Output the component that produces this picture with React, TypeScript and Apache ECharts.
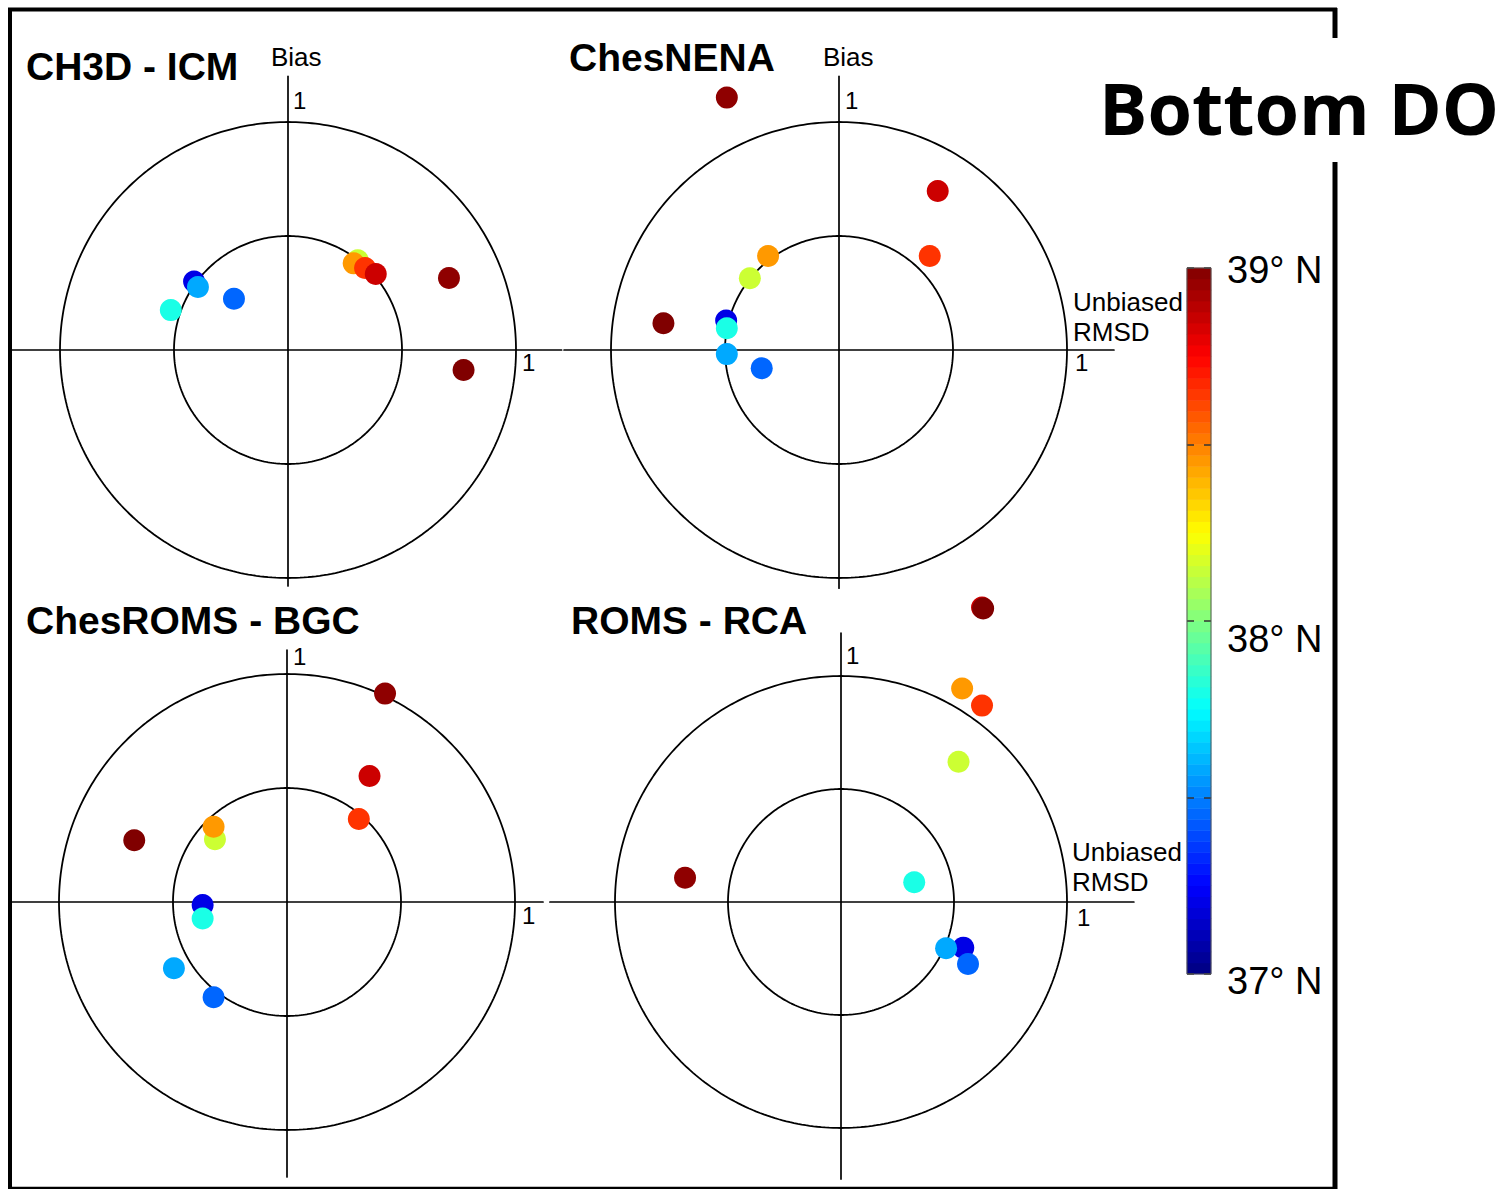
import React, { useEffect, useRef } from 'react';
import * as echarts from 'echarts';

// ---------- data ----------
const panelTitles = ['CH3D - ICM', 'ChesNENA', 'ChesROMS - BGC', 'ROMS - RCA'];

// station latitudes (°N), listed in drawing order
const stationLat = [37.2, 38.15, 38.45, 38.65, 38.85, 38.97, 39.0, 37.8, 37.58, 37.45];

// normalized unbiased RMSD (x) and bias (y) per panel, same station order
const ch3dX = [-0.412, 0.306, 0.288, 0.338, 0.385, 0.706, 0.77, -0.514, -0.395, -0.237];
const ch3dY = [0.3, 0.394, 0.38, 0.36, 0.333, 0.316, -0.088, 0.175, 0.276, 0.225];

const nenaX = [-0.495, -0.391, -0.311, 0.398, 0.433, -0.492, -0.77, -0.492, -0.492, -0.339];
const nenaY = [0.129, 0.315, 0.412, 0.412, 0.697, 1.107, 0.117, 0.095, -0.018, -0.08];

const bgcX = [-0.37, -0.316, -0.322, 0.315, 0.362, 0.43, -0.67, -0.37, -0.496, -0.322];
const bgcY = [-0.013, 0.275, 0.33, 0.364, 0.553, 0.914, 0.271, -0.072, -0.291, -0.418];

const rcaX = [0.541, 0.52, 0.536, 0.624, 0.624, -0.69, 0.629, 0.324, 0.465, 0.562];
const rcaY = [-0.202, 0.621, 0.945, 0.869, 1.303, 0.107, 1.299, 0.087, -0.205, -0.274];

const panelXs = [ch3dX, nenaX, bgcX, rcaX];
const panelYs = [ch3dY, nenaY, bgcY, rcaY];

const ringRadii = [0.5, 1];
const colorbarMin = 37;
const colorbarMax = 39;
const colorbarBins = 64;
const colorbarLabels = [37, 38, 39];
const jetStops = ['#000080', '#0000ff', '#0080ff', '#00ffff', '#80ff80', '#ffff00', '#ff8000', '#ff0000', '#800000'];

// ---------- layout ----------
const panels = [
  { cx: 288, cy: 350, r: 228, xMin: -1.21, xMax: 1.2, yMin: -1.035, yMax: 1.2 },
  { cx: 839, cy: 350, r: 228, xMin: -1.206, xMax: 1.206, yMin: -1.045, yMax: 1.2 },
  { cx: 287, cy: 902, r: 228, xMin: -1.205, xMax: 1.123, yMin: -1.206, yMax: 1.105 },
  { cx: 841, cy: 902, r: 226, xMin: -1.288, xMax: 1.296, yMin: -1.226, yMax: 1.19 },
];

const FONT = '"Liberation Sans", Arial, Helvetica, sans-serif';

function ringPoints(rad: number) {
  const pts: number[][] = [];
  const n = 360;
  for (let i = 0; i <= n; i++) {
    const a = (i / n) * Math.PI * 2;
    pts.push([rad * Math.cos(a), rad * Math.sin(a)]);
  }
  return pts;
}

function txt(text: string, x: number, y: number, font: string, align = 'left') {
  return {
    type: 'text',
    x,
    y,
    z: 100,
    silent: true,
    style: {
      text,
      font,
      fill: '#000',
      textAlign: align,
      align,
      textVerticalAlign: 'middle',
      verticalAlign: 'middle',
    },
  };
}

function buildOption() {
  const grids: any[] = [];
  const xAxes: any[] = [];
  const yAxes: any[] = [];
  const series: any[] = [];
  const scatterIdx: number[] = [];

  panels.forEach((p, k) => {
    grids.push({
      left: p.cx + p.xMin * p.r,
      top: p.cy - p.yMax * p.r,
      width: (p.xMax - p.xMin) * p.r,
      height: (p.yMax - p.yMin) * p.r,
      containLabel: false,
    });
    const axisCommon = {
      type: 'value',
      gridIndex: k,
      axisLine: { show: true, onZero: true, lineStyle: { color: '#000', width: 1.7 } },
      axisTick: { show: false },
      axisLabel: { show: false },
      splitLine: { show: false },
    };
    xAxes.push({ ...axisCommon, min: p.xMin, max: p.xMax });
    yAxes.push({ ...axisCommon, min: p.yMin, max: p.yMax });

    ringRadii.forEach((rad) => {
      series.push({
        type: 'line',
        xAxisIndex: k,
        yAxisIndex: k,
        data: ringPoints(rad),
        symbol: 'none',
        showSymbol: false,
        silent: true,
        clip: false,
        z: 1,
        lineStyle: { color: '#000', width: 1.8 },
      });
    });

    scatterIdx.push(series.length);
    series.push({
      type: 'scatter',
      xAxisIndex: k,
      yAxisIndex: k,
      symbol: 'circle',
      symbolSize: 22,
      clip: false,
      silent: true,
      z: 3,
      itemStyle: { opacity: 1 },
      data: panelXs[k].map((x, i) => [x, panelYs[k][i], stationLat[i]]),
    });
  });

  // colorbar
  const cbGrid = grids.length;
  grids.push({ left: 1187, top: 268, width: 24, height: 706, containLabel: false });
  const cbX = xAxes.length;
  xAxes.push({ type: 'category', gridIndex: cbGrid, data: [''], show: false });
  const binNames = Array.from({ length: colorbarBins }, (_, i) => String(i));
  const cbYCat = yAxes.length;
  yAxes.push({ type: 'category', gridIndex: cbGrid, data: binNames, show: false });
  yAxes.push({
    type: 'value',
    gridIndex: cbGrid,
    position: 'right',
    min: colorbarMin,
    max: colorbarMax,
    interval: 0.5,
    z: 10,
    axisLine: { show: false },
    axisTick: { show: true, inside: true, length: 7, lineStyle: { color: '#333', width: 1.5 } },
    axisLabel: {
      show: true,
      margin: 16,
      color: '#000',
      fontSize: 38,
      fontFamily: FONT,
      formatter: (v: number) => {
        const idx = colorbarLabels.findIndex((l) => Math.abs(l - v) < 1e-6);
        if (idx < 0) return '';
        const key = ['lo', 'mid', 'hi'][idx];
        return `{${key}|${colorbarLabels[idx]}° N}`;
      },
      rich: {
        lo: { fontSize: 38, fontFamily: FONT, color: '#000', padding: [14, 0, 0, 0] },
        mid: { fontSize: 38, fontFamily: FONT, color: '#000', padding: [36, 0, 0, 0] },
        hi: { fontSize: 38, fontFamily: FONT, color: '#000', padding: [4, 0, 0, 0] },
      },
    },
    splitLine: { show: false },
  });
  yAxes.push({
    type: 'value',
    gridIndex: cbGrid,
    position: 'left',
    min: colorbarMin,
    max: colorbarMax,
    interval: 0.5,
    z: 10,
    axisLine: { show: false },
    axisTick: { show: true, inside: true, length: 7, lineStyle: { color: '#333', width: 1.5 } },
    axisLabel: { show: false },
    splitLine: { show: false },
  });
  const heatIdx = series.length;
  series.push({
    type: 'heatmap',
    xAxisIndex: cbX,
    yAxisIndex: cbYCat,
    silent: true,
    data: binNames.map((_, i) => [0, i, colorbarMin + ((i + 0.5) * (colorbarMax - colorbarMin)) / colorbarBins]),
  });

  const labelFont = `26px ${FONT}`;
  const oneFont = `24px ${FONT}`;
  const titleFont = `bold 39px ${FONT}`;

  const graphic: any[] = [
    // frame
    { type: 'line', z: 100, silent: true, shape: { x1: 8, y1: 9.5, x2: 1337, y2: 9.5 }, style: { stroke: '#000', lineWidth: 4 } },
    { type: 'line', z: 100, silent: true, shape: { x1: 10, y1: 8, x2: 10, y2: 1189 }, style: { stroke: '#000', lineWidth: 4 } },
    { type: 'line', z: 100, silent: true, shape: { x1: 8, y1: 1188, x2: 1337, y2: 1188 }, style: { stroke: '#000', lineWidth: 2.5 } },
    { type: 'line', z: 100, silent: true, shape: { x1: 1335, y1: 8, x2: 1335, y2: 38 }, style: { stroke: '#000', lineWidth: 5 } },
    { type: 'line', z: 100, silent: true, shape: { x1: 1335, y1: 162, x2: 1335, y2: 1189 }, style: { stroke: '#000', lineWidth: 5 } },
    // colorbar border
    { type: 'rect', z: 100, silent: true, shape: { x: 1187, y: 268, width: 24, height: 706 }, style: { fill: 'none', stroke: '#555', lineWidth: 1 } },
    // big title
    txt('Bottom DO', 1099, 107, 'bold 72px "Open Sans", "Noto Sans", sans-serif'),
    // panel titles
    txt(panelTitles[0], 26, 66, titleFont),
    txt(panelTitles[1], 569, 57, titleFont),
    txt(panelTitles[2], 26, 620, titleFont),
    txt(panelTitles[3], 571, 620, titleFont),
    // axis labels
    txt('Bias', 271, 57, labelFont),
    txt('Bias', 823, 57, labelFont),
    txt('Unbiased', 1073, 302, labelFont),
    txt('RMSD', 1073, 332, labelFont),
    txt('Unbiased', 1072, 852, labelFont),
    txt('RMSD', 1072, 882, labelFont),
    // "1" ticks
    txt('1', 293, 100, oneFont),
    txt('1', 845, 100, oneFont),
    txt('1', 293, 656, oneFont),
    txt('1', 846, 655, oneFont),
    txt('1', 522, 362, oneFont),
    txt('1', 1075, 362, oneFont),
    txt('1', 522, 915, oneFont),
    txt('1', 1077, 917, oneFont),
  ];

  return {
    animation: false,
    backgroundColor: '#fff',
    grid: grids,
    xAxis: xAxes,
    yAxis: yAxes,
    visualMap: [
      {
        type: 'continuous',
        show: false,
        min: colorbarMin,
        max: colorbarMax,
        dimension: 2,
        seriesIndex: [...scatterIdx, heatIdx],
        inRange: { color: jetStops },
      },
    ],
    series,
    graphic,
  };
}

export default function App() {
  const ref = useRef<HTMLDivElement>(null);
  useEffect(() => {
    if (!ref.current) return;
    const chart = echarts.init(ref.current, undefined, { renderer: 'svg' });
    chart.setOption(buildOption() as any);
    return () => chart.dispose();
  }, []);
  return (
    <div
      ref={ref}
      style={{ position: 'fixed', left: 0, top: 0, width: 1511, height: 1189, background: '#fff' }}
    />
  );
}
